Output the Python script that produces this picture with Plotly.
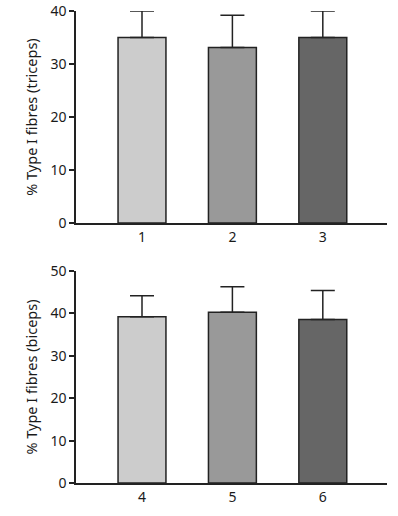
import plotly.graph_objects as go
from plotly.subplots import make_subplots

top_cats = [1, 2, 3]
top_vals = [35.0, 33.1, 35.0]
top_err = [5.0, 6.1, 5.0]

bot_cats = [4, 5, 6]
bot_vals = [39.2, 40.3, 38.6]
bot_err = [5.0, 6.0, 6.8]

bar_colors = ["#cccccc", "#999999", "#666666"]
top_title = "% Type I fibres (triceps)"
bot_title = "% Type I fibres (biceps)"

fig = make_subplots(rows=2, cols=1, vertical_spacing=0.1)

fig.add_trace(go.Bar(
    x=[1, 2, 3], y=top_vals,
    marker=dict(color=bar_colors, line=dict(color="#222222", width=1.5)),
    width=0.53,
    error_y=dict(type="data", array=top_err, arrayminus=[0, 0, 0], symmetric=False,
                 color="#222222", thickness=1.5, width=12),
), row=1, col=1)

fig.add_trace(go.Bar(
    x=[1, 2, 3], y=bot_vals,
    marker=dict(color=bar_colors, line=dict(color="#222222", width=1.5)),
    width=0.53,
    error_y=dict(type="data", array=bot_err, arrayminus=[0, 0, 0], symmetric=False,
                 color="#222222", thickness=1.5, width=12),
), row=2, col=1)

font_family = "Noto Sans"
axis_common = dict(showline=True, linecolor="#222222", linewidth=1.5, showgrid=False,
                   zeroline=False, automargin=False,
                   tickfont=dict(size=14, color="#1a1a1a", family=font_family))

fig.update_xaxes(**axis_common, range=[0.27, 3.71], ticks="", tickmode="array",
                 tickvals=[1, 2, 3])
fig.update_xaxes(ticktext=[str(c) for c in top_cats], row=1, col=1)
fig.update_xaxes(ticktext=[str(c) for c in bot_cats], row=2, col=1)

fig.update_yaxes(**axis_common, ticks="outside", ticklen=5, tickwidth=1.5, tickcolor="#222222")
fig.update_yaxes(range=[0, 40], dtick=10, domain=[0.5508, 1.0], row=1, col=1,
                 title=dict(text=top_title, font=dict(size=14.5, color="#1a1a1a", family=font_family), standoff=9))
fig.update_yaxes(range=[0, 50], dtick=10, domain=[0.0, 0.449], row=2, col=1,
                 title=dict(text=bot_title, font=dict(size=14.5, color="#1a1a1a", family=font_family), standoff=9))

fig.update_layout(
    width=398, height=516,
    margin=dict(l=76, r=11, t=11, b=33),
    plot_bgcolor="white", paper_bgcolor="white",
    showlegend=False,
    font=dict(family=font_family, color="#1a1a1a"),
)

fig.write_html("out.html", config={"displayModeBar": False},
               post_script="document.body.style.margin='0';")
